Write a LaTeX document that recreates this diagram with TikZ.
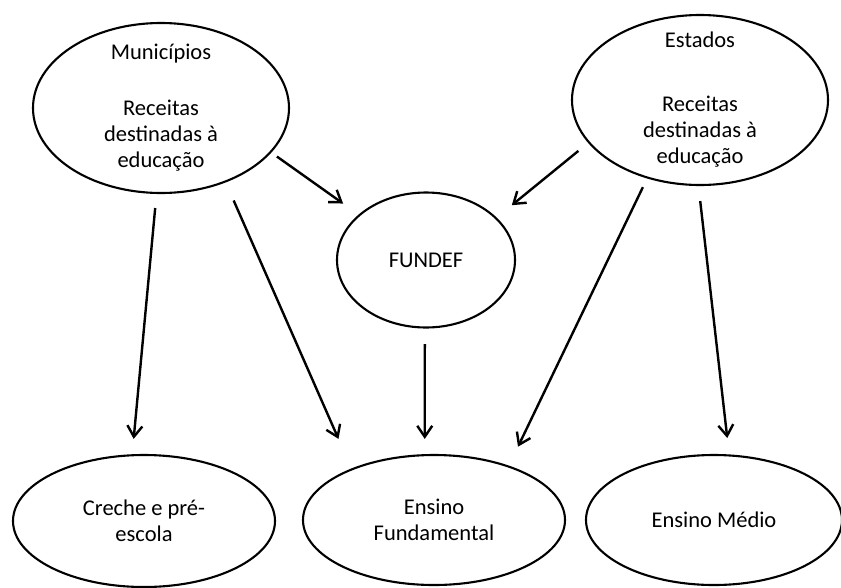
\documentclass[tikz,border=0pt]{standalone}
\usepackage{fontspec}
\setmainfont{Carlito}
\usetikzlibrary{shapes.geometric,arrows.meta}

\begin{document}
\begin{tikzpicture}[x=1pt,y=1pt,
  every node/.style={draw,ellipse,line width=2.1pt,inner sep=-8pt,align=center,
    font=\fontsize{22.5}{26}\selectfont},
  arr/.style={line width=2.4pt,-{Straight Barb[length=11pt,width=15pt]}}]
  \useasboundingbox (0,0) rectangle (841,-587);
  % sources
  \node[minimum width=256pt,minimum height=170pt] (mun) at (161,-108)
    {Municípios\\[30pt]Receitas\\destinadas à\\educação};
  \node[minimum width=256pt,minimum height=170pt] (est) at (700,-100)
    {Estados\\[38pt]Receitas\\destinadas à\\educação};
  \node[minimum width=178pt,minimum height=135pt] (fundef) at (426,-260) {FUNDEF};
  % levels
  \node[minimum width=262pt,minimum height=132pt] (creche) at (144,-521) {Creche e pré-\\escola};
  \node[minimum width=262pt,minimum height=130pt] (fund) at (434,-520) {Ensino\\Fundamental};
  \node[minimum width=256pt,minimum height=130pt] (medio) at (714,-520) {Ensino Médio};
  \foreach \a/\b/\s/\t in {mun.-22.6/fundef.146.9/6.8/19, mun.-93.9/creche.100.7/14.1/15.4,
      mun.-49.6/fund.148.7/19.7/32.3, est.-159.2/fundef.31.9/12.6/19.5,
      est.-124.3/fund.36.6/9.6/21, est.-91.9/medio.77/15.1/16.5,
      fundef.-91.7/fund.98.8/15.5/15.2}
    \draw[arr,shorten <=\s pt,shorten >=\t pt] (\a) -- (\b);
\end{tikzpicture}
\end{document}
